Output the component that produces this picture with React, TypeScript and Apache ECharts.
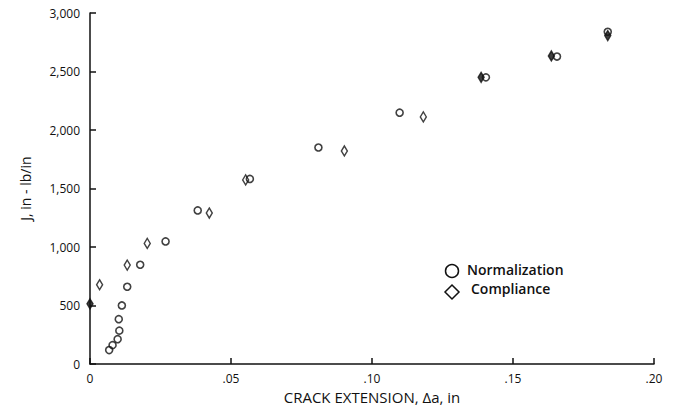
import React, { useEffect, useRef } from "react";
import * as echarts from "echarts";

const xTickLabels = ["0", ".05", ".10", ".15", ".20"];
const yTickLabels = ["0", "500", "1,000", "1,500", "2,000", "2,500", "3,000"];

const normX = [0.0068, 0.008, 0.0098, 0.0104, 0.0102, 0.0113, 0.0132, 0.0178, 0.0268, 0.0382, 0.0567, 0.081, 0.1098, 0.1404, 0.1656, 0.1836];
const normY = [120, 162, 213, 286, 384, 501, 661, 849, 1048, 1313, 1582, 1851, 2148, 2450, 2628, 2840];

const compX = [0, 0.0034, 0.0132, 0.0203, 0.0423, 0.0552, 0.0902, 0.1182, 0.1387, 0.1636, 0.1836];
const compY = [515, 678, 846, 1031, 1291, 1574, 1821, 2112, 2450, 2633, 2807];
const compFilled = [true, false, false, false, false, false, false, false, true, true, true];

const INK = "#111";
const FONT = "Open Sans";

export default function App() {
  const ref = useRef<HTMLDivElement>(null);
  useEffect(() => {
    if (!ref.current) return;
    const chart = echarts.init(ref.current, null, { renderer: "svg" });
    const compData = compX.map((x, i) => ({
      value: [x, compY[i]],
      itemStyle: { color: compFilled[i] ? INK : "#fff", borderColor: INK, borderWidth: 1.5 },
    }));
    const normData = normX.map((x, i) => [x, normY[i]]);
    chart.setOption({
      animation: false,
      backgroundColor: "#fff",
      grid: { left: 90, right: 33, top: 13, bottom: 39, containLabel: false },
      xAxis: {
        type: "value",
        min: 0,
        max: 0.2,
        interval: 0.05,
        name: "CRACK EXTENSION, \u0394a, in",
        nameLocation: "middle",
        nameGap: 21,
        nameTextStyle: { color: INK, fontFamily: FONT, fontSize: 15 },
        axisLine: { show: true, onZero: false, lineStyle: { color: INK, width: 1.5 } },
        axisTick: { show: true, inside: true, length: 6, lineStyle: { color: INK, width: 1.5 } },
        axisLabel: {
          color: INK,
          fontFamily: FONT,
          fontSize: 12,
          margin: 8,
          formatter: (v: number) => xTickLabels[Math.round(v / 0.05)] ?? "",
        },
        splitLine: { show: false },
      },
      yAxis: {
        type: "value",
        min: 0,
        max: 3000,
        interval: 500,
        name: "J, in - lb/in",
        nameLocation: "middle",
        nameRotate: 90,
        nameGap: 58,
        nameTextStyle: { color: INK, fontFamily: FONT, fontSize: 14 },
        axisLine: { show: true, onZero: false, lineStyle: { color: INK, width: 1.5 } },
        axisTick: { show: true, inside: true, length: 6, lineStyle: { color: INK, width: 1.5 } },
        axisLabel: {
          color: INK,
          fontFamily: FONT,
          fontSize: 12,
          margin: 10,
          formatter: (v: number) => yTickLabels[Math.round(v / 500)] ?? "",
        },
        splitLine: { show: false },
      },
      series: [
        {
          name: "Compliance",
          type: "scatter",
          symbol: "diamond",
          symbolSize: [6, 10],
          data: compData,
          z: 2,
        },
        {
          name: "Normalization",
          type: "scatter",
          symbol: "circle",
          symbolSize: 7,
          itemStyle: { color: "rgba(0,0,0,0)", borderColor: INK, borderWidth: 1.6 },
          data: normData,
          z: 3,
        },
      ],
      graphic: [
        { type: "circle", shape: { cx: 452, cy: 271, r: 6.5 }, style: { fill: "none", stroke: INK, lineWidth: 1.5 } },
        {
          type: "text",
          x: 467,
          y: 269,
          style: { text: "Normalization", fill: INK, font: `600 14px "${FONT}"`, textVerticalAlign: "middle" },
        },
        {
          type: "polygon",
          shape: { points: [[452, 285], [459, 292], [452, 299], [445, 292]] },
          style: { fill: "none", stroke: INK, lineWidth: 1.5 },
        },
        {
          type: "text",
          x: 471,
          y: 288,
          style: { text: "Compliance", fill: INK, font: `600 14px "${FONT}"`, textVerticalAlign: "middle" },
        },
      ],
    });
    return () => chart.dispose();
  }, []);
  return <div ref={ref} style={{ width: 687, height: 409, position: "absolute", left: 0, top: 0 }} />;
}
